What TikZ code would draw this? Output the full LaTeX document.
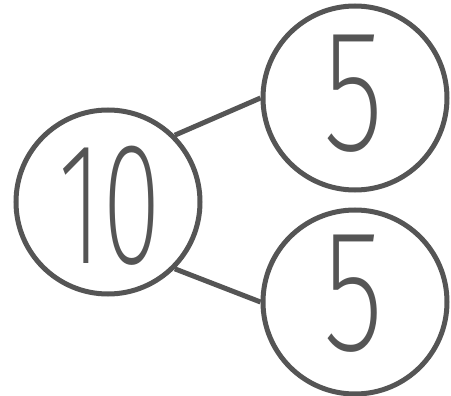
\documentclass[tikz,border=0pt]{standalone}
\usepackage{fontspec}
\newfontfamily\digitfont{Fira Sans ExtraLight}
\definecolor{ink}{HTML}{555555}
\begin{document}
\begin{tikzpicture}[x=1pt,y=-1pt,
  ring/.style={circle,draw=ink,line width=5pt,minimum size=184pt,inner sep=0pt},
  link/.style={draw=ink,line width=5pt},
  digit/.style={text=ink,inner sep=0pt,font=\digitfont\fontsize{174}{174}\selectfont}]
\useasboundingbox (0,0) rectangle (451,396);
\node[ring] (ten) at (108,202) {};
\node[ring] (top) at (355,98) {};
\node[ring] (bot) at (355,302) {};
\node[digit] (tenlabel) at (110,206) {\scalebox{0.62}[1]{10}};
\node[digit] (toplabel) at (354,94) {\scalebox{0.72}[1]{5}};
\node[digit] (botlabel) at (354,294) {\scalebox{0.72}[1]{5}};
\draw[link] (ten.45) -- (top.180);
\draw[link] (ten.-45) -- (bot.180);
\end{tikzpicture}
\end{document}
